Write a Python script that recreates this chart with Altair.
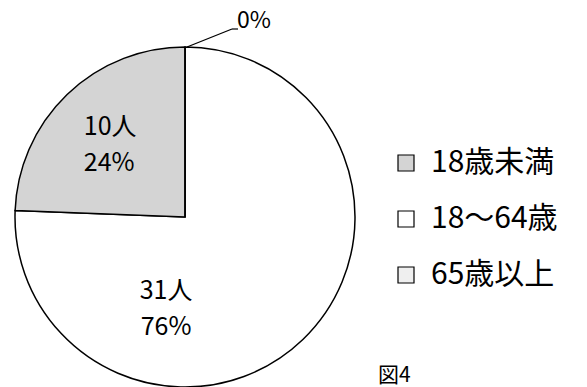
import altair as alt
import pandas as pd

categories = ["18〜64歳", "18歳未満", "65歳以上"]
counts = [31, 10, 0]
percents = ["76%", "24%", "0%"]
people = ["31人", "10人", "0人"]
stack_order = [1, 2, 3]

legend_order = ["18歳未満", "18〜64歳", "65歳以上"]
legend_colors = ["#d4d4d4", "#ffffff", "#efefef"]

df = pd.DataFrame({
    "cat": categories,
    "n": counts,
    "pct": percents,
    "ppl": people,
    "ord": stack_order,
})

FONT = "Noto Sans CJK JP"
CX, CY, R = 185, 217, 170

theta = alt.Theta("n:Q", stack=True)
order = alt.Order("ord:Q")

base = alt.Chart(df).encode(theta=theta, order=order,
                            x=alt.value(CX), y=alt.value(CY))

arcs = base.mark_arc(stroke="black", strokeWidth=1.5, radius=R).encode(
    color=alt.Color("cat:N",
                    scale=alt.Scale(domain=legend_order, range=legend_colors),
                    legend=alt.Legend(
                        title=None, orient="none", legendX=391, legendY=148,
                        symbolType="square", symbolSize=256,
                        symbolStrokeColor="black", symbolStrokeWidth=1.2,
                        labelFont=FONT, labelFontSize=30, labelColor="black",
                        rowPadding=26, labelOffset=10, symbolOffset=0)),
)


def label(field, cat, radius, dx, dy):
    return base.mark_text(font=FONT, fontSize=25, color="black",
                          radius=radius, dx=dx, dy=dy,
                          baseline="middle", align="center").encode(
        text=alt.Text(f"{field}:N"),
        opacity=alt.condition(alt.datum.cat == cat, alt.value(1), alt.value(0)),
    )


small_ppl = label("ppl", "18歳未満", 105, -2, -14)
small_pct = label("pct", "18歳未満", 105, -3, 22)
big_ppl = label("ppl", "18〜64歳", 91, -82, 8)
big_pct = label("pct", "18〜64歳", 91, -82, 44)

zero = alt.Chart(df).transform_filter(alt.datum.cat == "65歳以上")

zero_label = zero.mark_text(
    font=FONT, fontSize=23, color="black", align="left", baseline="middle"
).encode(text="pct:N", x=alt.value(237), y=alt.value(21))

leader1 = zero.mark_rule(color="black", strokeWidth=1.2).encode(
    x=alt.value(187), y=alt.value(47), x2=alt.value(232), y2=alt.value(29))
leader2 = zero.mark_rule(color="black", strokeWidth=1.2).encode(
    x=alt.value(232), y=alt.value(29), x2=alt.value(238), y2=alt.value(29))

fig_label = zero.mark_text(
    font=FONT, fontSize=21, color="black", align="left", baseline="bottom", text="図4"
).encode(x=alt.value(378), y=alt.value(386))

chart = alt.layer(arcs, small_ppl, small_pct, big_ppl, big_pct,
                  leader1, leader2, zero_label, fig_label).properties(
    width=587, height=387, padding=0,
    autosize=alt.AutoSizeParams(type="none"),
    background="white",
).configure_view(stroke=None)

chart.save("out.html", embed_options={"renderer": "svg", "actions": False})
